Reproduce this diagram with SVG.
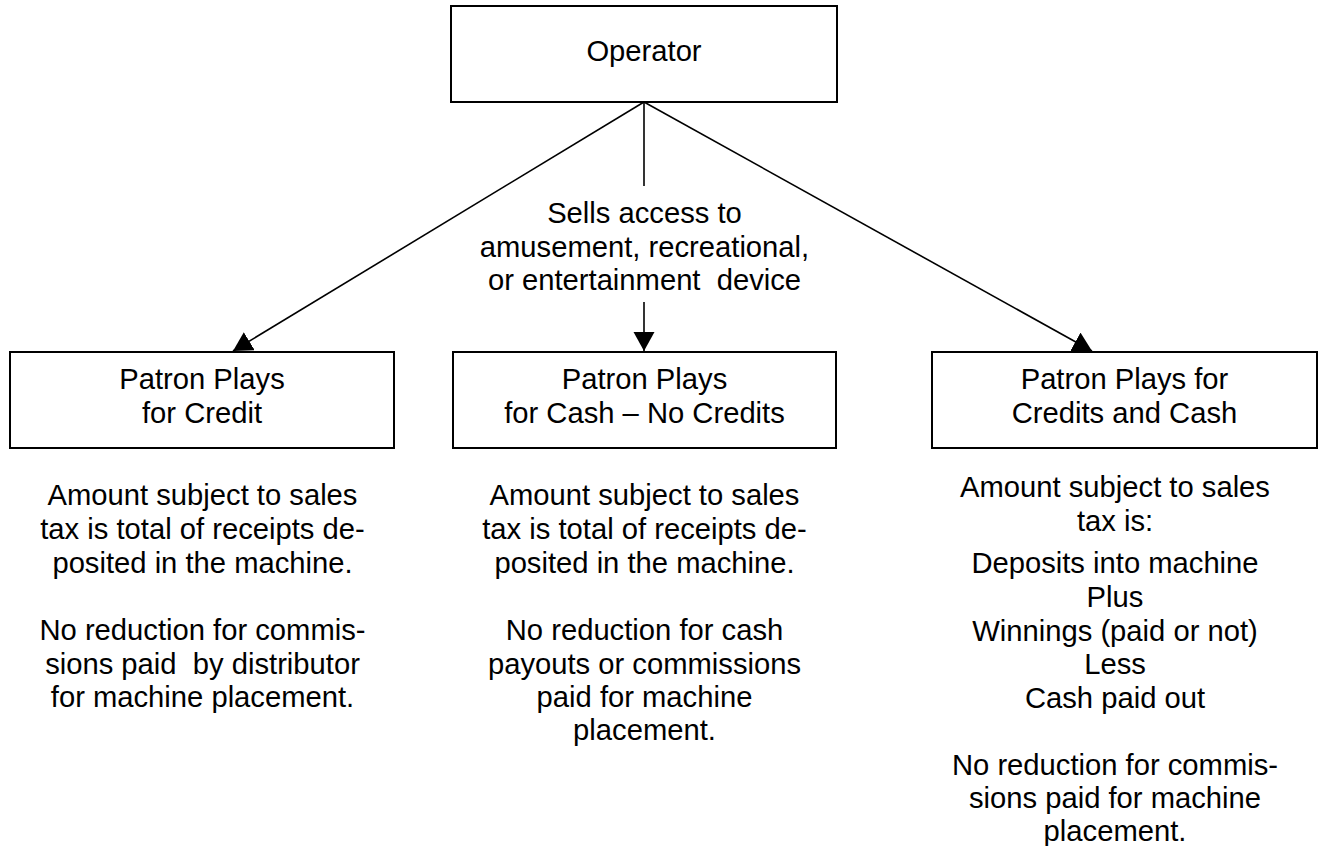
<svg xmlns="http://www.w3.org/2000/svg" width="1320" height="846" viewBox="0 0 1320 846">
<style>
.box{fill:#fff;stroke:#000;stroke-width:2}
.t{font-family:"Liberation Sans",Arial,sans-serif;font-size:29.2px;fill:#000;text-anchor:middle;white-space:pre}
.c{stroke:#000;stroke-width:1.6;fill:none}
</style>
<defs>
<marker id="ah" markerUnits="userSpaceOnUse" markerWidth="20" markerHeight="22" refX="19" refY="10.5" orient="auto" viewBox="0 0 20 22">
<path d="M0,0 L19,10.5 L0,21 z" fill="#000"/>
</marker>
</defs>
<rect width="1320" height="846" fill="#fff"/>
<g id="connectors">
<line class="c" x1="644" y1="102" x2="233" y2="351" marker-end="url(#ah)"/>
<line class="c" x1="644" y1="102" x2="1092" y2="351" marker-end="url(#ah)"/>
<line class="c" x1="644" y1="102" x2="644" y2="186"/>
<line class="c" x1="644" y1="302" x2="644" y2="351" marker-end="url(#ah)"/>
<text class="t" x="644.5" y="223">Sells access to</text>
<text class="t" x="644.5" y="256.5">amusement, recreational,</text>
<text class="t" x="644.5" y="290" xml:space="preserve">or entertainment  device</text>
</g>
<g id="operator">
<rect class="box" x="451" y="6" width="386" height="96"/>
<text class="t" x="644" y="61">Operator</text>
</g>
<g id="credit">
<rect class="box" x="10" y="352" width="384" height="96"/>
<text class="t" x="202" y="389">Patron Plays</text>
<text class="t" x="202" y="423">for Credit</text>
</g>
<g id="cash">
<rect class="box" x="453" y="352" width="383" height="96"/>
<text class="t" x="644.5" y="389">Patron Plays</text>
<text class="t" x="644.5" y="423">for Cash – No Credits</text>
</g>
<g id="creditscash">
<rect class="box" x="932" y="352" width="385" height="96"/>
<text class="t" x="1124.5" y="389">Patron Plays for</text>
<text class="t" x="1124.5" y="423">Credits and Cash</text>
</g>
<g id="note-credit">
<text class="t" x="202.5" y="505">Amount subject to sales</text>
<text class="t" x="202.5" y="539">tax is total of receipts de-</text>
<text class="t" x="202.5" y="572.5">posited in the machine.</text>
<text class="t" x="202.5" y="640">No reduction for commis-</text>
<text class="t" x="202.5" y="673.5" xml:space="preserve">sions paid  by distributor</text>
<text class="t" x="202.5" y="707">for machine placement.</text>
</g>
<g id="note-cash">
<text class="t" x="644.5" y="505">Amount subject to sales</text>
<text class="t" x="644.5" y="539">tax is total of receipts de-</text>
<text class="t" x="644.5" y="572.5">posited in the machine.</text>
<text class="t" x="644.5" y="640">No reduction for cash</text>
<text class="t" x="644.5" y="673.5">payouts or commissions</text>
<text class="t" x="644.5" y="707">paid for machine</text>
<text class="t" x="644.5" y="740">placement.</text>
</g>
<g id="note-creditscash">
<text class="t" x="1115" y="497">Amount subject to sales</text>
<text class="t" x="1115" y="531">tax is:</text>
<text class="t" x="1115" y="573">Deposits into machine</text>
<text class="t" x="1115" y="607">Plus</text>
<text class="t" x="1115" y="640.5">Winnings (paid or not)</text>
<text class="t" x="1115" y="674">Less</text>
<text class="t" x="1115" y="707.5">Cash paid out</text>
<text class="t" x="1115" y="775">No reduction for commis-</text>
<text class="t" x="1115" y="808">sions paid for machine</text>
<text class="t" x="1115" y="841">placement.</text>
</g>
</svg>
